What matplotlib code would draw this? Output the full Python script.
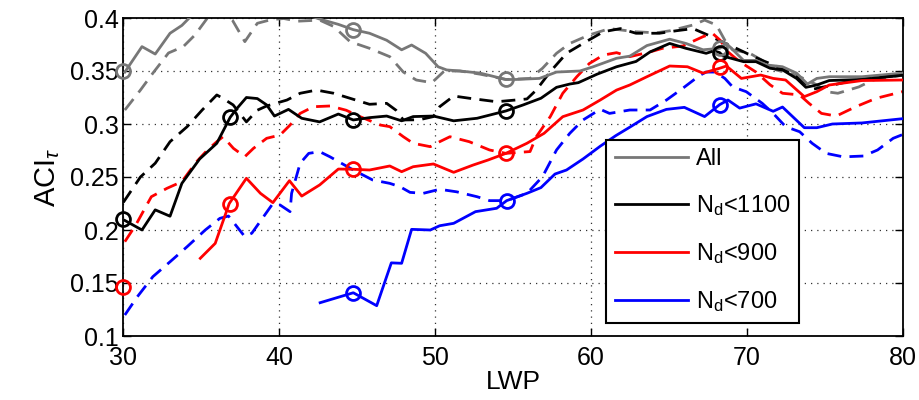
import numpy as np
import matplotlib
matplotlib.use("Agg")
import matplotlib.pyplot as plt

plt.rcParams['font.family'] = ['Liberation Sans', 'DejaVu Sans']
plt.rcParams['mathtext.fontset'] = 'custom'
plt.rcParams['mathtext.rm'] = 'Liberation Sans'
plt.rcParams['mathtext.it'] = 'Liberation Sans:italic'
plt.rcParams['mathtext.sf'] = 'Liberation Sans'

# ---------------- data ----------------
all_x = [30.1,31.2,32.05,33.0,33.76,34.3,35.2,36.0,36.9,37.8,38.7,39.5,40.3,41.2,42.0,42.6,43.8,44.76,45.8,46.9,47.86,48.5,49.4,50.2,50.75,51.6,52.9,54.55,55.2,56.7,57.8,59.3,60.15,61.65,62.5,63.6,65.06,66.1,67.2,68.27,68.7,69.8,70.6,71.3,72.3,73.2,73.9,74.5,75.3,77.4,80]
all_y = [0.349,0.373,0.366,0.3856,0.393,0.401,0.406,0.41,0.41,0.408,0.406,0.405,0.405,0.404,0.402,0.399,0.394,0.389,0.3856,0.379,0.370,0.3745,0.3667,0.354,0.351,0.350,0.348,0.342,0.342,0.343,0.349,0.350,0.354,0.362,0.364,0.374,0.380,0.376,0.370,0.3714,0.376,0.360,0.360,0.3557,0.354,0.348,0.3377,0.343,0.3446,0.3446,0.348]

n1100_x = [30.1,31.2,32.05,33.0,33.76,34.9,36.0,36.86,37.3,37.9,38.6,39.2,39.7,40.6,41.45,42.6,43.8,44.76,45.8,46.9,47.86,48.6,49.9,51.2,52.7,54.55,55.66,56.8,57.8,58.65,59.2,60.4,61.65,62.9,63.8,65.06,66.1,67.4,67.9,68.27,68.5,69.8,70.6,71.5,72.3,73.2,73.8,74.5,75.3,77.4,80]
n1100_y = [0.209,0.200,0.219,0.213,0.244,0.267,0.2818,0.3063,0.3148,0.325,0.324,0.318,0.3075,0.3138,0.3054,0.302,0.3094,0.3038,0.306,0.3075,0.303,0.307,0.3075,0.303,0.3054,0.3123,0.318,0.3243,0.3346,0.3377,0.339,0.347,0.354,0.359,0.368,0.376,0.3714,0.3667,0.369,0.3673,0.364,0.3588,0.3588,0.3526,0.351,0.343,0.3346,0.3368,0.341,0.342,0.346]

n900_x = [34.94,35.9,36.8,37.9,38.8,39.6,40.66,41.45,42.6,43.8,44.76,45.8,47.1,47.86,48.6,49.9,51.2,52.45,53.4,54.55,55.9,57.0,58.2,59.5,60.6,61.65,62.5,63.6,65.06,66.2,67.2,68.27,68.7,69.66,70.9,71.7,72.5,73.7,74.5,75.3,77.4,80]
n900_y = [0.1733,0.1874,0.225,0.2488,0.2346,0.2258,0.2465,0.232,0.2425,0.2575,0.2573,0.2566,0.2604,0.255,0.2597,0.2623,0.2544,0.2613,0.266,0.2723,0.2818,0.2912,0.3069,0.3132,0.3226,0.332,0.3368,0.3446,0.3547,0.354,0.348,0.3526,0.3547,0.343,0.3462,0.343,0.3415,0.3258,0.3305,0.3368,0.341,0.3415]

n700_x = [42.63,44.76,46.26,47.2,47.86,48.5,49.7,50.3,51.2,52.6,53.96,54.6,55.9,56.8,57.7,58.44,59.5,60.6,61.6,62.5,63.6,64.85,66.0,67.3,68.27,68.8,69.55,70.6,71.7,72.3,73.7,74.5,75.5,77.4,80]
n700_y = [0.1314,0.1408,0.1286,0.169,0.1686,0.2006,0.200,0.204,0.2063,0.2173,0.2205,0.2277,0.2346,0.240,0.2528,0.2566,0.267,0.279,0.289,0.297,0.307,0.3138,0.3157,0.307,0.3183,0.3226,0.315,0.319,0.312,0.316,0.2965,0.2965,0.300,0.301,0.305]

all_d_x = [30.1,31.1,31.9,32.9,33.85,34.6,35.4,36.2,37.0,37.8,38.6,39.5,40.3,41.2,42.6,43.5,44.55,45.8,47.1,47.97,48.8,49.8,50.6,51.6,52.9,54.55,56.1,56.9,57.8,58.65,59.9,61.2,62.9,64.2,65.1,66.56,67.3,68.06,68.6,69.1,70.2,71.0,71.9,73.2,74.5,75.1,75.85,77.2,78.1,80]
all_d_y = [0.3132,0.332,0.348,0.367,0.373,0.384,0.400,0.407,0.398,0.3777,0.395,0.3985,0.3995,0.397,0.398,0.392,0.3777,0.3714,0.3635,0.349,0.3415,0.339,0.350,0.350,0.347,0.342,0.343,0.3526,0.3667,0.376,0.384,0.390,0.387,0.386,0.388,0.3934,0.398,0.3934,0.379,0.370,0.3667,0.360,0.351,0.346,0.337,0.3305,0.329,0.335,0.3415,0.346]

n1100_d_x = [30.0,31.1,32.05,33.0,34.1,35.05,36.0,36.3,37.05,37.9,38.6,39.2,40.5,41.35,42.4,43.5,44.76,45.8,46.9,47.5,47.97,49.0,49.9,50.3,51.2,52.2,53.96,55.9,56.5,57.4,58.44,59.7,60.8,61.9,62.9,64.4,65.5,66.56,67.5,68.5,69.1,70.1,71.0,72.0,73.0,73.8,74.3,75.3,76.5,77.5,78.5,80]
n1100_d_y = [0.226,0.250,0.263,0.2833,0.2975,0.313,0.3274,0.325,0.318,0.302,0.313,0.317,0.3226,0.329,0.332,0.329,0.3233,0.3186,0.3195,0.313,0.3038,0.304,0.307,0.3163,0.3264,0.3243,0.321,0.3236,0.332,0.3494,0.3667,0.3777,0.387,0.390,0.3856,0.3856,0.388,0.390,0.384,0.377,0.373,0.366,0.360,0.354,0.347,0.338,0.333,0.336,0.340,0.342,0.344,0.346]

n900_d_x = [30.1,30.8,31.8,32.8,33.76,34.7,35.4,36.0,36.4,37.07,37.8,38.35,39.2,40.06,40.7,41.35,42.2,43.27,44.3,45.2,46.5,47.1,47.97,48.6,49.7,50.3,50.96,52.2,53.5,54.55,56.1,56.5,57.4,58.2,59.1,59.9,60.8,61.65,62.5,63.8,64.6,65.9,67.2,67.8,68.3,68.8,69.55,70.6,71.5,72.3,73.4,74.0,74.8,75.75,77.0,78.3,80]
n900_d_y = [0.189,0.2047,0.2314,0.2393,0.2456,0.2644,0.2755,0.2833,0.288,0.277,0.2692,0.277,0.2865,0.2896,0.299,0.310,0.3163,0.317,0.313,0.3069,0.299,0.2975,0.288,0.2818,0.2786,0.2833,0.288,0.2833,0.2755,0.2723,0.274,0.288,0.307,0.329,0.3446,0.357,0.365,0.3673,0.3635,0.368,0.3714,0.3736,0.3824,0.3856,0.379,0.368,0.3588,0.349,0.337,0.329,0.3274,0.3195,0.310,0.3075,0.3163,0.3242,0.3305]

n700_d_x = [30.1,30.9,31.9,33.0,34.1,35.26,36.2,36.75,37.8,38.25,39.6,40.06,40.7,40.8,41.35,41.9,42.6,43.27,44.76,46.0,47.1,47.76,48.4,49.25,50.3,51.4,52.7,53.5,54.6,55.9,56.5,56.9,57.8,58.65,59.5,60.6,61.2,62.5,63.8,64.85,65.9,67.0,67.4,68.0,68.6,69.1,69.97,71.0,71.7,72.5,73.4,74.2,75.1,76.2,77.5,78.4,79.4,80]
n700_d_y = [0.1198,0.137,0.156,0.170,0.1843,0.200,0.211,0.2132,0.1937,0.197,0.225,0.2236,0.2173,0.2346,0.263,0.2723,0.2739,0.269,0.2566,0.2472,0.244,0.2408,0.2355,0.2346,0.2384,0.236,0.2314,0.2277,0.2277,0.2346,0.244,0.2503,0.2755,0.2912,0.3038,0.3139,0.310,0.3132,0.3132,0.3226,0.3337,0.346,0.349,0.349,0.343,0.335,0.3305,0.3195,0.310,0.2975,0.2927,0.2818,0.2723,0.269,0.2698,0.2755,0.2865,0.290]

# circle markers
mark_all_x = [30.0, 44.76, 54.55, 68.27]
mark_all_y = [0.350, 0.389, 0.342, 0.3714]
mark_1100_x = [30.0, 36.86, 44.76, 54.55, 68.27]
mark_1100_y = [0.210, 0.3063, 0.3038, 0.3123, 0.3673]
mark_900_x = [30.0, 36.86, 44.76, 54.55, 68.27]
mark_900_y = [0.146, 0.225, 0.2573, 0.2723, 0.3535]
mark_700_x = [44.76, 54.6, 68.27]
mark_700_y = [0.1408, 0.2277, 0.3183]

labels = ['All', r'N$_{\mathrm{d}}$<1100', r'N$_{\mathrm{d}}$<900', r'N$_{\mathrm{d}}$<700']
colors = ['#777777', 'black', '#ff0000', '#0000ff']

# ---------------- plot ----------------
fig = plt.figure(figsize=(9.2, 4.0), dpi=100)
ax = fig.add_axes([0.134, 0.16, 0.847, 0.795])

lw = 2.0
dash = (0, (5.0, 3.0))

solid_sets = [(all_x, all_y), (n1100_x, n1100_y), (n900_x, n900_y), (n700_x, n700_y)]
dash_sets = [(all_d_x, all_d_y), (n1100_d_x, n1100_d_y), (n900_d_x, n900_d_y), (n700_d_x, n700_d_y)]
mark_sets = [(mark_all_x, mark_all_y), (mark_1100_x, mark_1100_y), (mark_900_x, mark_900_y), (mark_700_x, mark_700_y)]

handles = []
for (dx, dy), c in zip(dash_sets, colors):
    ax.plot(dx, dy, color=c, lw=lw, linestyle=dash, zorder=2)
for (sx, sy), (mx, my), c, lab in zip(solid_sets, mark_sets, colors, labels):
    h, = ax.plot(sx, sy, color=c, lw=lw, zorder=3, label=lab)
    ax.plot(mx, my, linestyle='none', marker='o', ms=10, mfc='none', mec=c, mew=2.0, zorder=4, clip_on=False)
    handles.append(h)

ax.set_xlim(30, 80)
ax.set_ylim(0.1, 0.4)
ax.set_xticks([30, 40, 50, 60, 70, 80])
ax.set_yticks([0.1, 0.15, 0.2, 0.25, 0.3, 0.35, 0.4])
ax.set_yticklabels(['0.1', '0.15', '0.2', '0.25', '0.3', '0.35', '0.4'])
ax.tick_params(direction='in', top=True, right=True, length=6, width=1.0, labelsize=18)
ax.tick_params(axis='x', pad=7)
ax.tick_params(axis='y', pad=3)
ax.grid(True, linestyle=(0, (1, 4)), color='0.2', linewidth=0.9)
for s in ax.spines.values():
    s.set_linewidth(1.3)

ax.set_xlabel('LWP', fontsize=19, labelpad=0)
ax.set_ylabel(r'ACI$_{\tau}$', fontsize=21, labelpad=6)

leg = ax.legend(handles=handles, loc='upper left', bbox_to_anchor=(0.62, 0.616),
                borderaxespad=0.0, fontsize=17, handlelength=3.1, labelspacing=0.98,
                borderpad=0.35, handletextpad=0.35, fancybox=False, framealpha=1,
                edgecolor='black')
leg.get_frame().set_linewidth(1.5)
leg.set_zorder(10)

fig.savefig('out.png', dpi=100)
